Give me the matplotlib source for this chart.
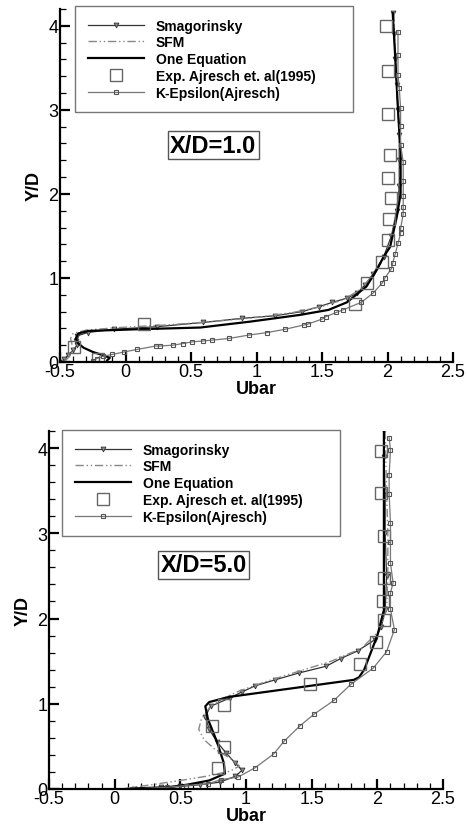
import numpy as np
import matplotlib.pyplot as plt
from matplotlib.ticker import MultipleLocator

plt.rcParams['font.family'] = ['Liberation Sans', 'DejaVu Sans']

# ---------------- X/D = 1.0 ----------------
smag1_y = [4.15, 3.9, 3.6, 3.3, 3.0, 2.7, 2.4, 2.1, 1.8, 1.5, 1.25, 1.05, 0.92, 0.82, 0.76, 0.71,
           0.66, 0.60, 0.55, 0.52, 0.47, 0.42, 0.39, 0.35, 0.31, 0.25, 0.20, 0.14, 0.08, 0.03, 0.0]
smag1_x = [2.04, 2.05, 2.06, 2.07, 2.08, 2.09, 2.09, 2.09, 2.07, 2.03, 1.97, 1.89, 1.83, 1.77, 1.69, 1.58,
           1.48, 1.35, 1.14, 0.89, 0.59, 0.24, -0.09, -0.29, -0.37, -0.38, -0.37, -0.40, -0.44, -0.47, -0.48]

sfm1_y = [4.15, 3.5, 3.0, 2.5, 2.0, 1.7, 1.4, 1.2, 1.0, 0.85, 0.74, 0.66, 0.59, 0.53, 0.48, 0.44,
          0.41, 0.38, 0.34, 0.28, 0.22, 0.15, 0.08, 0.03, 0.0]
sfm1_x = [2.05, 2.06, 2.08, 2.09, 2.09, 2.06, 2.02, 1.96, 1.87, 1.78, 1.66, 1.50, 1.28, 1.00, 0.66, 0.30,
          -0.05, -0.30, -0.40, -0.42, -0.41, -0.40, -0.42, -0.45, -0.47]

oneq1_y = [4.15, 3.6, 3.0, 2.5, 2.0, 1.72, 1.37, 1.25, 1.1, 0.9, 0.71, 0.62, 0.56, 0.48, 0.41, 0.39,
           0.37, 0.34, 0.28, 0.22, 0.17, 0.12, 0.08, 0.05, 0.02]
oneq1_x = [2.04, 2.06, 2.08, 2.10, 2.10, 2.07, 2.02, 1.97, 1.92, 1.84, 1.69, 1.55, 1.33, 0.95, 0.57, 0.10,
           -0.28, -0.36, -0.38, -0.36, -0.32, -0.25, -0.17, -0.12, -0.14]

exp1_y = [4.0, 3.46, 2.95, 2.46, 2.19, 1.95, 1.70, 1.45, 1.19, 0.94, 0.69, 0.45, 0.18, 0.03]
exp1_x = [1.99, 2.0, 2.0, 2.02, 2.0, 2.03, 2.01, 2.0, 1.96, 1.84, 1.75, 0.14, -0.39, -0.21]

keps1_y = [3.93, 3.65, 3.41, 3.26, 3.02, 2.81, 2.58, 2.38, 2.15, 1.98, 1.84, 1.76, 1.59, 1.53, 1.41,
           1.29, 1.18, 1.11, 1.00, 0.94, 0.82, 0.71, 0.62, 0.59, 0.54, 0.51, 0.45, 0.44, 0.39, 0.35,
           0.32, 0.28, 0.26, 0.25, 0.24, 0.22, 0.20, 0.19, 0.19, 0.15, 0.12, 0.09, 0.07, 0.04, 0.01]
keps1_x = [2.08, 2.08, 2.08, 2.09, 2.10, 2.10, 2.10, 2.12, 2.12, 2.12, 2.12, 2.12, 2.10, 2.10, 2.08,
           2.06, 2.04, 2.03, 1.98, 1.96, 1.89, 1.80, 1.66, 1.61, 1.53, 1.50, 1.39, 1.36, 1.22, 1.08,
           0.94, 0.79, 0.66, 0.59, 0.51, 0.44, 0.36, 0.26, 0.23, 0.09, -0.01, -0.10, -0.17, -0.22, -0.25]

# ---------------- X/D = 5.0 ----------------
smag5_y = [4.2, 3.9, 3.5, 3.0, 2.5, 2.1, 1.9, 1.75, 1.62, 1.53, 1.44, 1.36, 1.28, 1.21, 1.14, 1.07,
           0.97, 0.85, 0.70, 0.55, 0.42, 0.30, 0.22, 0.15, 0.08, 0.05, 0.03, 0.02, 0.0]
smag5_x = [2.05, 2.05, 2.06, 2.06, 2.07, 2.06, 2.03, 1.98, 1.85, 1.72, 1.61, 1.40, 1.22, 1.07, 0.97, 0.88,
           0.73, 0.69, 0.72, 0.78, 0.85, 0.92, 0.97, 0.92, 0.80, 0.65, 0.50, 0.35, 0.15]

sfm5_y = [4.2, 3.5, 3.0, 2.5, 2.1, 1.85, 1.65, 1.5, 1.38, 1.26, 1.15, 1.06, 0.95, 0.82, 0.70, 0.58,
          0.47, 0.36, 0.27, 0.21, 0.15, 0.10, 0.05, 0.0]
sfm5_x = [2.06, 2.07, 2.08, 2.08, 2.07, 2.01, 1.88, 1.65, 1.40, 1.15, 0.95, 0.82, 0.72, 0.66, 0.64, 0.68,
          0.76, 0.88, 0.95, 0.88, 0.70, 0.50, 0.28, 0.05]

oneq5_y = [4.2, 3.5, 3.0, 2.5, 2.1, 1.8, 1.6, 1.4, 1.31, 1.28, 1.08, 1.02, 0.97, 0.82, 0.55, 0.31,
           0.18, 0.10, 0.05, 0.02, 0.01, 0.0]
oneq5_x = [2.05, 2.05, 2.05, 2.05, 2.05, 2.00, 1.95, 1.90, 1.86, 1.82, 0.87, 0.72, 0.69, 0.71, 0.78, 0.83,
           0.84, 0.72, 0.55, 0.40, 0.20, 0.10]

exp5_y = [3.96, 3.47, 2.97, 2.47, 2.21, 1.98, 1.72, 1.47, 1.23, 0.98, 0.74, 0.49, 0.25]
exp5_x = [2.03, 2.03, 2.05, 2.05, 2.04, 2.05, 1.99, 1.87, 1.49, 0.83, 0.74, 0.83, 0.79]

keps5_y = [4.12, 3.98, 3.68, 3.46, 3.12, 2.90, 2.65, 2.42, 2.30, 2.11, 1.87, 1.61, 1.42, 1.23, 1.04,
           0.88, 0.74, 0.56, 0.41, 0.25, 0.14, 0.11, 0.06, 0.04, 0.02, 0.0]
keps5_x = [2.09, 2.10, 2.09, 2.09, 2.10, 2.10, 2.10, 2.12, 2.10, 2.10, 2.13, 2.07, 1.97, 1.80, 1.67,
           1.52, 1.41, 1.29, 1.21, 1.07, 0.94, 0.81, 0.71, 0.54, 0.40, 0.13]

labels = ['Smagorinsky', 'SFM', 'One Equation', 'Exp. Ajresch et. al(1995)', 'K-Epsilon(Ajresch)']
xtick_vals = [-0.5, 0, 0.5, 1, 1.5, 2, 2.5]
xtick_text = ['-0.5', '0', '0.5', '1', '1.5', '2', '2.5']

fig = plt.figure(figsize=(4.67, 8.28), dpi=100)
ax1 = fig.add_axes([60/467, 1 - 363/828, 393/467, 353/828])
ax2 = fig.add_axes([49/467, 1 - 790/828, 394/467, 358/828])


def draw(ax, d, title, leg_box, title_xy):
    smx, smy, sfx, sfy, oex, oey, exx, exy, kx, ky = d
    ax.plot(smx, smy, color='#333333', lw=0.9, marker='v', ms=3.5, mfc='#888888', mec='#333333',
            mew=0.6, label=labels[0])
    ax.plot(sfx, sfy, color='#888888', lw=1.0, dashes=[6, 2, 1, 2, 1, 2], label=labels[1])
    ax.plot(oex, oey, color='black', lw=1.6, label=labels[2])
    ax.plot(exx, exy, ls='none', marker='s', ms=8.5, mfc='none', mec='#666666', mew=1.0,
            label=labels[3])
    ax.plot(kx, ky, color='#777777', lw=0.9, marker='s', ms=3.5, mfc='none', mec='#555555',
            mew=0.8, label=labels[4])

    ax.set_xlim(-0.5, 2.5)
    ax.set_ylim(0, 4.2)
    ax.set_xticks(xtick_vals)
    ax.set_xticklabels(xtick_text)
    ax.xaxis.set_minor_locator(MultipleLocator(0.1))
    ax.yaxis.set_major_locator(MultipleLocator(1))
    ax.yaxis.set_minor_locator(MultipleLocator(0.2))
    ax.spines['top'].set_visible(False)
    ax.spines['right'].set_visible(False)
    ax.spines['left'].set_linewidth(1.6)
    ax.spines['bottom'].set_linewidth(1.6)
    ax.tick_params(which='major', direction='in', length=7, width=1.6, labelsize=13, pad=1)
    ax.tick_params(which='minor', direction='in', length=4, width=0.9)
    ax.set_xlabel('Ubar', fontsize=13, fontweight='bold', labelpad=0)
    ax.set_ylabel('Y/D', fontsize=13, fontweight='bold', labelpad=4)

    leg = ax.legend(loc='upper left', bbox_to_anchor=leg_box, mode='expand', borderaxespad=0,
                    handlelength=4.1, handletextpad=0.8, labelspacing=0.2, borderpad=0.9,
                    fancybox=False, framealpha=1, prop={'weight': 'bold', 'size': 10})
    leg.get_frame().set_edgecolor('#777777')
    leg.get_frame().set_linewidth(1.0)

    ax.text(title_xy[0], title_xy[1], title, fontsize=17, fontweight='bold', ha='center',
            va='center', bbox=dict(boxstyle='square,pad=0.1', fc='white', ec='#555555', lw=1.0))


draw(ax1, (smag1_x, smag1_y, sfm1_x, sfm1_y, oneq1_x, oneq1_y, exp1_x, exp1_y, keps1_x, keps1_y),
     'X/D=1.0', ((75 - 60) / 393, (363 - 108) / 353, (353 - 75) / 393, 101 / 353), (0.67, 2.58))
draw(ax2, (smag5_x, smag5_y, sfm5_x, sfm5_y, oneq5_x, oneq5_y, exp5_x, exp5_y, keps5_x, keps5_y),
     'X/D=5.0', ((62 - 49) / 394, (790 - 532) / 358, (340 - 62) / 394, 101 / 358), (0.68, 2.63))

fig.savefig('out.png', dpi=100)
